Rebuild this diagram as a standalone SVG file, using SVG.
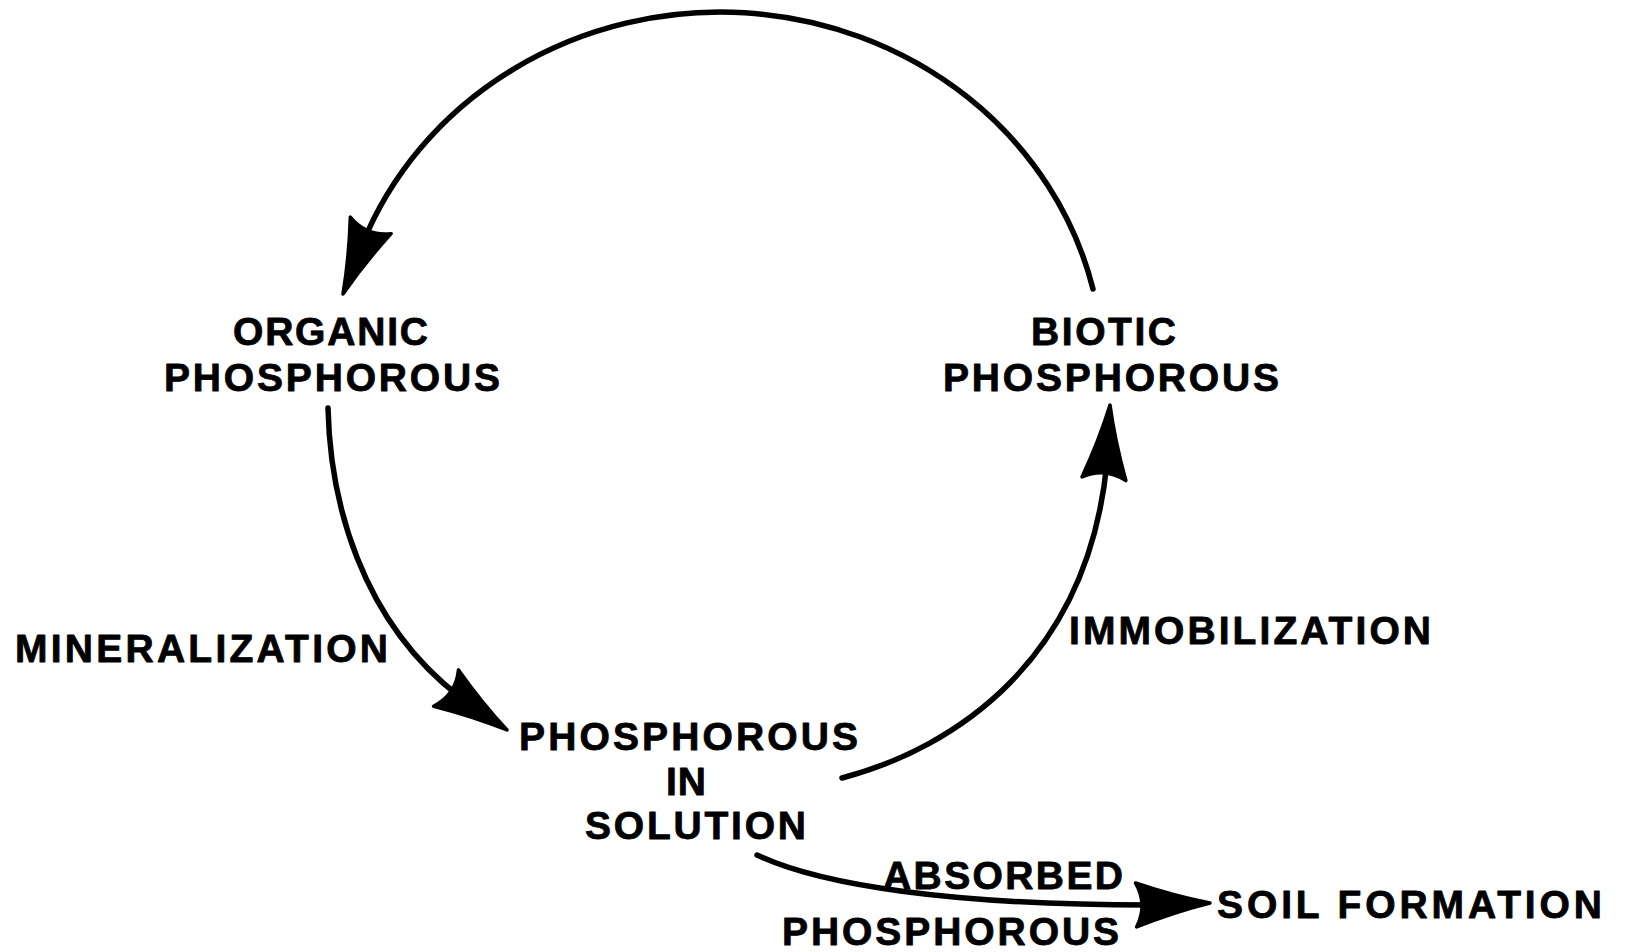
<svg xmlns="http://www.w3.org/2000/svg" width="1628" height="952" viewBox="0 0 1628 952">
<style>
.t{font-family:"Liberation Sans",Arial,Helvetica,sans-serif;font-weight:bold;font-size:39px;fill:#000;stroke:#000;stroke-width:0.8;stroke-linejoin:round}
.c{fill:none;stroke:#000;stroke-width:5.5;stroke-linecap:round}
.h{fill:#000;stroke:#000;stroke-width:3.5;stroke-linejoin:round}
</style>
<defs>
<path id="ah" class="h" d="M0,0 Q-36,-8 -74,-22 Q-62,0 -74,22 Q-36,8 0,0 Z"/>
</defs>
<rect width="1628" height="952" fill="#fff"/>
<g id="connectors">
<path class="c" d="M1093,289 A383,360 0 0 0 362,245"/>
<use href="#ah" transform="translate(343,294) rotate(112)"/>
<path class="c" d="M328,408 C330,500 360,620 460,697"/>
<use href="#ah" transform="translate(507,730) rotate(34.5)"/>
<path class="c" d="M842,778 C955,748 1088,660 1107,462"/>
<use href="#ah" transform="translate(1110,405) rotate(-85.3)"/>
<path class="c" d="M757,855 C820,885 950,905 1150,905"/>
<use href="#ah" transform="translate(1210,903) rotate(-1.5)"/>
</g>
<g id="organic">
<text class="t" x="233" y="345" textLength="195" lengthAdjust="spacing">ORGANIC</text>
<text class="t" x="164" y="391" textLength="336" lengthAdjust="spacing">PHOSPHOROUS</text>
</g>
<g id="biotic">
<text class="t" x="1031" y="345" textLength="145" lengthAdjust="spacing">BIOTIC</text>
<text class="t" x="943" y="391" textLength="336" lengthAdjust="spacing">PHOSPHOROUS</text>
</g>
<g id="solution">
<text class="t" x="519" y="750" textLength="339" lengthAdjust="spacing">PHOSPHOROUS</text>
<text class="t" x="666" y="795" textLength="40" lengthAdjust="spacing">IN</text>
<text class="t" x="585" y="839" textLength="221" lengthAdjust="spacing">SOLUTION</text>
</g>
<g id="soil">
<text class="t" x="1217" y="918" textLength="385" lengthAdjust="spacing">SOIL FORMATION</text>
</g>
<g id="label-mineralization">
<text class="t" x="15" y="662" textLength="373" lengthAdjust="spacing">MINERALIZATION</text>
</g>
<g id="label-immobilization">
<text class="t" x="1069" y="644" textLength="362" lengthAdjust="spacing">IMMOBILIZATION</text>
</g>
<g id="label-absorbed">
<text class="t" x="883" y="889" textLength="240" lengthAdjust="spacing">ABSORBED</text>
<text class="t" x="782" y="945" textLength="337" lengthAdjust="spacing">PHOSPHOROUS</text>
</g>
</svg>
